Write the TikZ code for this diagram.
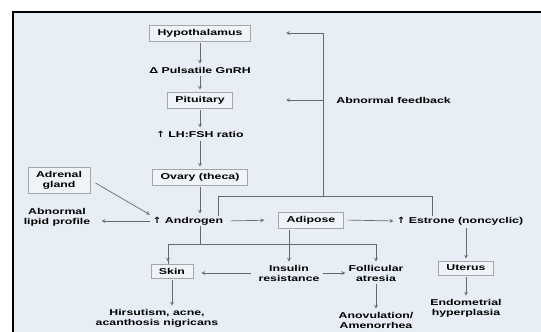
\documentclass[tikz,border=0pt]{standalone}
\usepackage{fontspec}
\setmainfont{Liberation Sans}[FakeStretch=1.45]
\newfontfamily\arrfont{DejaVu Sans}[FakeStretch=1.2]
\newcommand{\up}{{\arrfont ↑}}
\definecolor{bgblue}{RGB}{232,238,245}
\definecolor{ln}{RGB}{105,105,105}
\begin{document}
\begin{tikzpicture}[x=1pt,y=-1pt,line width=0.7pt,>=stealth,
  font=\fontsize{8.5}{10}\selectfont\bfseries,
  box/.style={draw=gray!70,fill=white!35!bgblue,inner xsep=8pt,inner ysep=4pt,align=center},
  lbl/.style={inner sep=1pt,align=center},
  arr/.style={draw=ln,->,shorten >=2pt,shorten <=2pt}]
\useasboundingbox (0,0) rectangle (541,332);
\fill[white] (0,0) rectangle (541,332);
\fill[bgblue] (13,12) rectangle (541,332);
\draw[line width=2pt] (541,12) -- (13,12) -- (13,332);
% main column
\node[box] (hyp) at (200,33) {Hypothalamus};
\node[lbl] (gnrh) at (200,70) {Δ Pulsatile GnRH};
\node[box] (pit) at (200,100) {Pituitary};
\node[lbl] (lh) at (200,134) {\up\ LH:FSH ratio};
\node[box] (ovary) at (200,177) {Ovary (theca)};
\node[box] (adr) at (59,180) {Adrenal\\gland};
\node[lbl] (andr) at (188,221) {\up\ Androgen};
\node[lbl] (lipid) at (57,217) {Abnormal\\lipid profile};
\node[box] (adip) at (311,220) {Adipose};
\node[lbl] (estr) at (460,221) {\up\ Estrone (noncyclic)};
\node[box] (ut) at (466,268) {Uterus};
\node[lbl] (endo) at (466,308) {Endometrial\\hyperplasia};
\node[box] (skin) at (172,271) {Skin};
\node[lbl] (ins) at (289,273) {Insulin\\resistance};
\node[lbl] (atr) at (376,273) {Follicular\\atresia};
\node[lbl] (anov) at (376,320) {Anovulation/\\Amenorrhea};
\node[lbl] (hirs) at (157,318) {Hirsutism, acne,\\acanthosis nigricans};
\node[lbl,anchor=west] (fb) at (335,100) {Abnormal feedback};
\foreach \a/\b in {hyp/gnrh,gnrh/pit,pit/lh,lh/ovary}{\draw[arr] (\a) -- (\b);};
\draw[arr] (ovary.south) -- (ovary.south |- andr.north);
\draw[arr,shorten <=6pt] (adr.east) -- (andr.north west);
\draw[arr,shorten >=10pt] (andr.west) -- (andr.west -| lipid.east);
\draw[arr,shorten <=6pt,shorten >=14pt] (andr.east) -- (adip.west);
\draw[arr,shorten <=4pt] (adip.east) -- (estr.west);
\draw[arr] (ut |- estr.south) -- (ut.north);
\draw[arr] (ut.south) -- (ut |- endo.north);
% branches below androgen
\coordinate (br) at (200,244);
\draw[draw=ln] (br |- andr.south) -- (br);
\draw[draw=ln] (skin.north -| 168,0) |- (atr |- br);
\draw[arr,shorten <=0pt] (168,244) -- (skin.north -| 168,0);
\draw[arr,shorten <=0pt] (atr |- br) -- (atr.north);
\draw[arr] (ins.north |- adip.south) -- (ins.north);
\draw[arr,shorten <=6pt,shorten >=8pt] (ins.west) -- (ins.west -| skin.east);
\draw[arr] (ins.east) -- (atr.west);
\draw[arr] (skin.south) -- (skin |- hirs.north);
\draw[arr] (atr.south) -- (anov.north);
% feedback loop
\coordinate (fl) at (218,196);
\coordinate (fr) at (432,196);
\coordinate (fm) at (323,196);
\coordinate (fh) at (286,33);
\coordinate (fp) at (286,100);
\draw[draw=ln] (fl |- andr.north) -- (fl) -- (fr) -- (fr |- estr.north);
\draw[draw=ln] (fm) -- (fm |- fh);
\draw[arr,shorten <=0pt,shorten >=0pt] (fm |- fh) -- (fh);
\draw[arr,shorten <=0pt,shorten >=0pt] (fm |- fp) -- (fp);
\end{tikzpicture}
\end{document}
